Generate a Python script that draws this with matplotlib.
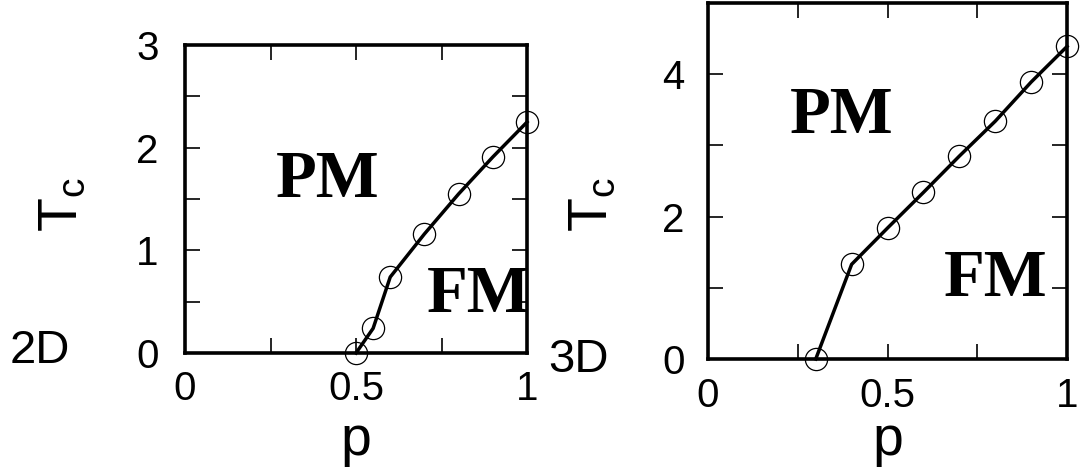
import matplotlib
matplotlib.use('Agg')
import matplotlib.pyplot as plt

# Dữ liệu
p_2d = [0.5, 0.55, 0.6, 0.7, 0.8, 0.9, 1.0]
tc_2d = [0.0, 0.24, 0.74, 1.16, 1.55, 1.91, 2.25]
p_3d = [0.3, 0.4, 0.5, 0.6, 0.7, 0.8, 0.9, 1.0]
tc_3d = [0.0, 1.33, 1.84, 2.34, 2.85, 3.34, 3.89, 4.39]

xticks = [0, 0.25, 0.5, 0.75, 1]
xticklabels = ['0', '', '0.5', '', '1']
yticks_2d = [0, 0.5, 1, 1.5, 2, 2.5, 3]
yticklabels_2d = ['0', '', '1', '', '2', '', '3']
yticks_3d = [0, 1, 2, 3, 4, 5]
yticklabels_3d = ['0', '', '2', '', '4', '']

plt.rcParams['font.family'] = ['Liberation Sans', 'DejaVu Sans']
plt.rcParams['mathtext.fontset'] = 'custom'
plt.rcParams['mathtext.rm'] = 'Liberation Sans'
plt.rcParams['mathtext.it'] = 'Liberation Sans'

fig = plt.figure(figsize=(10.8, 4.73), dpi=100)
ax1 = fig.add_axes([0.1713, 0.2537, 0.3167, 0.651])
ax2 = fig.add_axes([0.6556, 0.241, 0.3324, 0.7526])

def style(ax, yticks, yticklabels, ylim, xpad, ypad):
    ax.set_xlim(0, 1)
    ax.set_ylim(*ylim)
    ax.set_xticks(xticks)
    ax.set_xticklabels(xticklabels)
    ax.set_yticks(yticks)
    ax.set_yticklabels(yticklabels)
    ax.tick_params(direction='in', length=11, width=1.2, top=True, right=True,
                   labelsize=29)
    ax.tick_params(axis='x', pad=xpad)
    ax.tick_params(axis='y', pad=ypad)
    for s in ax.spines.values():
        s.set_linewidth(2.6)

def draw(ax, x, y):
    ax.plot(x, y, color='black', linewidth=2.5, marker='o', markersize=16,
            markerfacecolor='none', markeredgewidth=0.9, clip_on=False, zorder=3)

draw(ax1, p_2d, tc_2d)
style(ax1, yticks_2d, yticklabels_2d, (0, 3), 12, 19)
draw(ax2, p_3d, tc_3d)
style(ax2, yticks_3d, yticklabels_3d, (0, 5), 13, 17)

serif = dict(family=['Liberation Serif', 'DejaVu Serif'], fontweight='bold',
             fontsize=48, ha='center', va='center')
ax1.text(0.418, 1.685, 'PM', **serif)
ax1.text(0.857, 0.565, 'FM', clip_on=True, **serif)
ax2.text(0.373, 3.40, 'PM', **serif)
ax2.text(0.80, 1.11, 'FM', **serif)

# Nhãn trục
fig.text(356 / 1080, 1 - 455 / 473, 'p', fontsize=40, ha='center', va='baseline')
fig.text(888 / 1080, 1 - 455 / 473, 'p', fontsize=40, ha='center', va='baseline')
fig.text(63 / 1080, 1 - 205 / 473, r'$\mathrm{T_c}$', fontsize=40,
         rotation=90, ha='center', va='center')
fig.text(593 / 1080, 1 - 205 / 473, r'$\mathrm{T_c}$', fontsize=40,
         rotation=90, ha='center', va='center')
fig.text(40 / 1080, 1 - 363 / 473, '2D', fontsize=34, ha='center', va='baseline')
fig.text(578 / 1080, 1 - 372 / 473, '3D', fontsize=34, ha='center', va='baseline')

fig.savefig('out.png', dpi=100)
